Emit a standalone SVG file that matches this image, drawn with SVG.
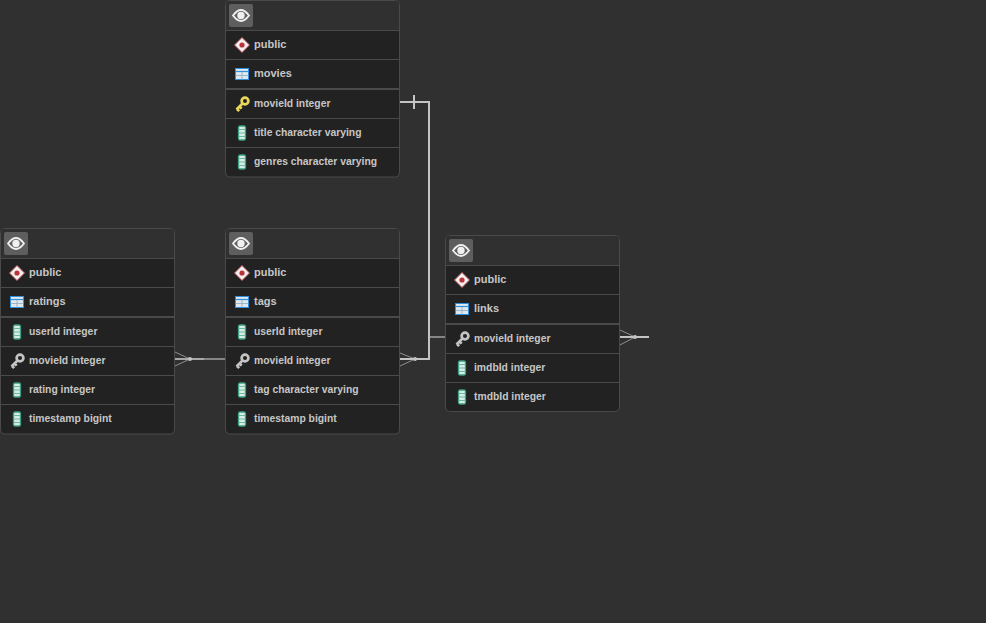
<svg xmlns="http://www.w3.org/2000/svg" width="986" height="623" viewBox="0 0 986 623">
<style>
text{font-family:"Liberation Sans",Arial,sans-serif;font-size:11px;font-weight:700;fill:#c6c6c6}
text.c{font-size:10.350px}
.frame{fill:#222222;stroke:#4a4a4a;stroke-width:1}
.head{fill:#303030}
.sep{stroke:#4a4a4a;stroke-width:1;fill:none}
.sep2{stroke:#4a4a4a;stroke-width:2;fill:none}
.line{stroke:#c4c4c4;stroke-width:2;fill:none}
.dim{stroke:#858585;stroke-width:2;fill:none}
.thin{stroke:#b8b8b8;stroke-width:.7;fill:none}
</style>
<defs>
<g id="eye"><rect x="0" y="0" width="24" height="23" rx="2" fill="#5e5e5e"/><path d="M4 11.500C7 7.500 9.500 6 12 6C14.500 6 17 7.500 20 11.500C17 15.500 14.500 17 12 17C9.500 17 7 15.500 4 11.500Z" fill="#5e5e5e" stroke="#f0f0f0" stroke-width="1.800"/><circle cx="12" cy="11.500" r="3.700" fill="#f0f0f0"/></g>
<g id="schema"><path d="M0 -7.500L7.500 0L0 7.500L-7.500 0Z" fill="#f4eeee" stroke="#c0575c" stroke-width="1"/><circle r="2.600" fill="#b8343a"/></g>
<g id="table"><rect x="-6.500" y="-5.500" width="13" height="11" fill="#dfe7ef" stroke="#2f8fdc" stroke-width="1"/><path d="M-6.500 -2.500H6.500" stroke="#2f8fdc" stroke-width="1.200"/><path d="M-6.500 1.500H6.500M0 -2V5.500" stroke="#8fa9bf" stroke-width=".8"/></g>
<g id="col"><rect x="-3.500" y="-7" width="7" height="14" rx="1.500" fill="#d8ece6" stroke="#3a9d82" stroke-width="1.300"/><path d="M-3.500 -3.500H3.500M-3.500 0H3.500M-3.500 3.500H3.500" stroke="#6ab8a2" stroke-width="1.200"/></g>
<g id="keyy"><circle cx="3" cy="-3" r="3.400" fill="none" stroke="#e8d85c" stroke-width="2.700"/><path d="M0.500 -0.500L-5.500 5.500M-5 5L-2.800 7.200M-2.500 2.500L-0.300 4.700" stroke="#e8d85c" stroke-width="2.600" fill="none"/></g>
<g id="keyg"><circle cx="3" cy="-3" r="3.400" fill="none" stroke="#c4c4c4" stroke-width="2.700"/><path d="M0.500 -0.500L-5.500 5.500M-5 5L-2.800 7.200M-2.500 2.500L-0.300 4.700" stroke="#c4c4c4" stroke-width="2.600" fill="none"/></g>
</defs>
<rect width="986" height="623" fill="#303030"/>
<g id="connectors">
<path class="line" d="M400 102H429V359H400"/>
<path class="line" d="M414 95V109"/>
<path class="dim" d="M430 337H445"/>
<path class="thin" d="M400 353L415 359L400 366"/>
<circle cx="415" cy="359" r="2" fill="#c4c4c4"/>
<path class="dim" d="M204 359H225"/>
<path class="line" style="stroke:#a8a8a8" d="M175 359H204"/>
<path class="thin" d="M175 352L190 359L175 366"/>
<circle cx="190" cy="359" r="2" fill="#c4c4c4"/>
<path class="line" d="M620 337H649"/>
<path class="thin" d="M620 330L635 337L620 345"/>
<circle cx="635" cy="337" r="2" fill="#c4c4c4"/>
</g>
<g id="movies-table">
<rect class="frame" x="225.500" y="0.500" width="174" height="176.500" rx="4"/>
<path class="head" d="M226 30V4Q226 1 229 1H396Q399 1 399 4V30Z"/>
<use href="#eye" x="229" y="4"/>
<path class="sep" d="M226 30.500H399M226 59.500H399M226 118.500H399M226 147.500H399"/><path class="sep2" d="M226 89H399"/>
<use href="#schema" x="242" y="45"/><text x="254" y="48">public</text>
<use href="#table" x="242" y="74"/><text x="254" y="77">movies</text>
<use href="#keyy" x="242" y="104"/><text class="c" x="254" y="107">movieId integer</text>
<use href="#col" x="242" y="133"/><text class="c" x="254" y="136">title character varying</text>
<use href="#col" x="242" y="162"/><text class="c" x="254" y="165">genres character varying</text>
</g>
<g id="ratings-table">
<rect class="frame" x="0.500" y="228.500" width="174" height="205.500" rx="4"/>
<path class="head" d="M1 258V232Q1 229 4 229H171Q174 229 174 232V258Z"/>
<use href="#eye" x="4" y="232"/>
<path class="sep" d="M1 258.500H174M1 287.500H174M1 346.500H174M1 375.500H174M1 404.500H174"/><path class="sep2" d="M1 317H174"/>
<use href="#schema" x="17" y="273"/><text x="29" y="276">public</text>
<use href="#table" x="17" y="302"/><text x="29" y="305">ratings</text>
<use href="#col" x="17" y="332"/><text class="c" x="29" y="335">userId integer</text>
<use href="#keyg" x="17" y="361"/><text class="c" x="29" y="364">movieId integer</text>
<use href="#col" x="17" y="390"/><text class="c" x="29" y="393">rating integer</text>
<use href="#col" x="17" y="419"/><text class="c" x="29" y="422">timestamp bigint</text>
</g>
<g id="tags-table">
<rect class="frame" x="225.500" y="228.500" width="174" height="205.500" rx="4"/>
<path class="head" d="M226 258V232Q226 229 229 229H396Q399 229 399 232V258Z"/>
<use href="#eye" x="229" y="232"/>
<path class="sep" d="M226 258.500H399M226 287.500H399M226 346.500H399M226 375.500H399M226 404.500H399"/><path class="sep2" d="M226 317H399"/>
<use href="#schema" x="242" y="273"/><text x="254" y="276">public</text>
<use href="#table" x="242" y="302"/><text x="254" y="305">tags</text>
<use href="#col" x="242" y="332"/><text class="c" x="254" y="335">userId integer</text>
<use href="#keyg" x="242" y="361"/><text class="c" x="254" y="364">movieId integer</text>
<use href="#col" x="242" y="390"/><text class="c" x="254" y="393">tag character varying</text>
<use href="#col" x="242" y="419"/><text class="c" x="254" y="422">timestamp bigint</text>
</g>
<g id="links-table">
<rect class="frame" x="445.500" y="235.500" width="174" height="176" rx="4"/>
<path class="head" d="M446 265V239Q446 236 449 236H616Q619 236 619 239V265Z"/>
<use href="#eye" x="449" y="239"/>
<path class="sep" d="M446 265.500H619M446 294.500H619M446 353.500H619M446 382.500H619"/><path class="sep2" d="M446 324H619"/>
<use href="#schema" x="462" y="280"/><text x="474" y="283">public</text>
<use href="#table" x="462" y="309"/><text x="474" y="312">links</text>
<use href="#keyg" x="462" y="339"/><text class="c" x="474" y="342">movieId integer</text>
<use href="#col" x="462" y="368"/><text class="c" x="474" y="371">imdbId integer</text>
<use href="#col" x="462" y="397"/><text class="c" x="474" y="400">tmdbId integer</text>
</g>
</svg>
